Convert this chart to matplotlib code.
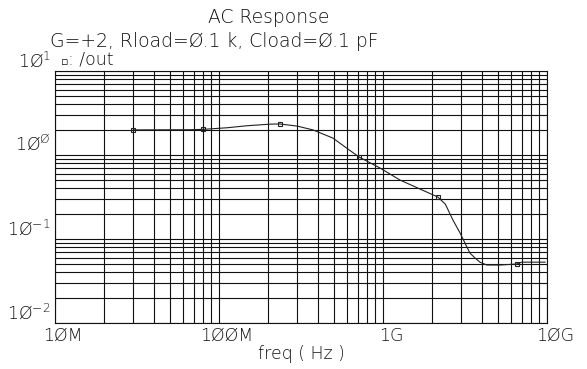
import numpy as np
import matplotlib.pyplot as plt
import matplotlib.transforms as mtransforms

# values: frequency (Hz) vs |out|
freq = [3.0e7, 6.65e7, 8.0e7, 1.12e8, 1.48e8, 2.05e8, 2.35e8, 2.99e8, 3.74e8,
        4.95e8, 6.03e8, 7.14e8, 9.59e8, 1.27e9, 2.16e9, 2.40e9, 2.67e9, 2.95e9,
        3.16e9, 3.39e9, 3.64e9, 3.90e9, 4.30e9, 5.16e9, 6.56e9, 7.0e9, 7.87e9, 9.73e9]
mag = [1.99, 2.00, 2.02, 2.11, 2.23, 2.33, 2.34, 2.21, 1.99,
       1.59, 1.20, 0.947, 0.70, 0.503, 0.316, 0.26, 0.168, 0.118,
       0.0896, 0.068, 0.0594, 0.053, 0.049, 0.049, 0.0504, 0.053, 0.053, 0.053]
marker_idx = [0, 2, 6, 11, 14, 24]

xticks = [1e7, 1e8, 1e9, 1e10]
xticklabels = ['1ØM', '1ØØM', '1G', '1ØG']
yticks = [1e-2, 1e-1, 1e0, 1e1]
yticklabels = [r'$\mathregular{1Ø^{-2}}$', r'$\mathregular{1Ø^{-1}}$',
               r'$\mathregular{1Ø^{Ø}}$', r'$\mathregular{1Ø^{1}}$']

plt.rcParams['font.family'] = ['DejaVu Sans']
plt.rcParams['font.weight'] = 200
plt.rcParams['axes.labelweight'] = 200
plt.rcParams['mathtext.fontset'] = 'custom'
plt.rcParams['mathtext.rm'] = 'DejaVu Sans:light'
txt = '#111111'
fs = 13.5
tfs = 12.5

fig = plt.figure(figsize=(5.87, 3.69), dpi=100)
ax = fig.add_axes([55/587, 1 - 323/369, 492/587, 252/369])

ax.plot(freq, mag, color='#222222', linewidth=0.8,
        marker='s', markersize=3, markerfacecolor='none', markeredgewidth=0.8,
        markevery=marker_idx)

ax.set_xscale('log')
ax.set_yscale('log')
ax.set_xlim(1e7, 1e10)
ax.set_ylim(1e-2, 1e1)

ax.grid(which='both', color='#111111', linewidth=0.8)
ax.set_axisbelow(True)
for s in ax.spines.values():
    s.set_color('#111111')
    s.set_linewidth(0.8)

ax.set_xticks(xticks)
ax.set_xticklabels(xticklabels, fontsize=tfs, color=txt)
ax.set_yticks(yticks)
ax.set_yticklabels(yticklabels, fontsize=tfs, color=txt, va='bottom')
ax.tick_params(which='both', length=0, pad=3)

dx = mtransforms.ScaledTranslation(8/100, 0, fig.dpi_scale_trans)
for lab in ax.get_xticklabels():
    lab.set_transform(lab.get_transform() + dx)

ax.set_xlabel('freq ( Hz )', fontsize=tfs, color=txt, labelpad=0, fontweight=200)

fig.text(208/587, 1 - 23/369, 'AC Response', fontsize=fs, color=txt,
         ha='left', va='baseline')
fig.text(50/587, 1 - 47/369, 'G=+2, Rload=Ø.1 k, Cload=Ø.1 pF', fontsize=fs,
         color=txt, ha='left', va='baseline')
# legend: tiny marker glyph then the trace name
fig.text(61/587, 1 - 65/369, '\u25ab', fontsize=8, color=txt, fontweight='normal',
         ha='left', va='baseline')
fig.text(68/587, 1 - 65/369, ': /out', fontsize=tfs, color=txt,
         ha='left', va='baseline')

fig.savefig('out.png', dpi=100)
